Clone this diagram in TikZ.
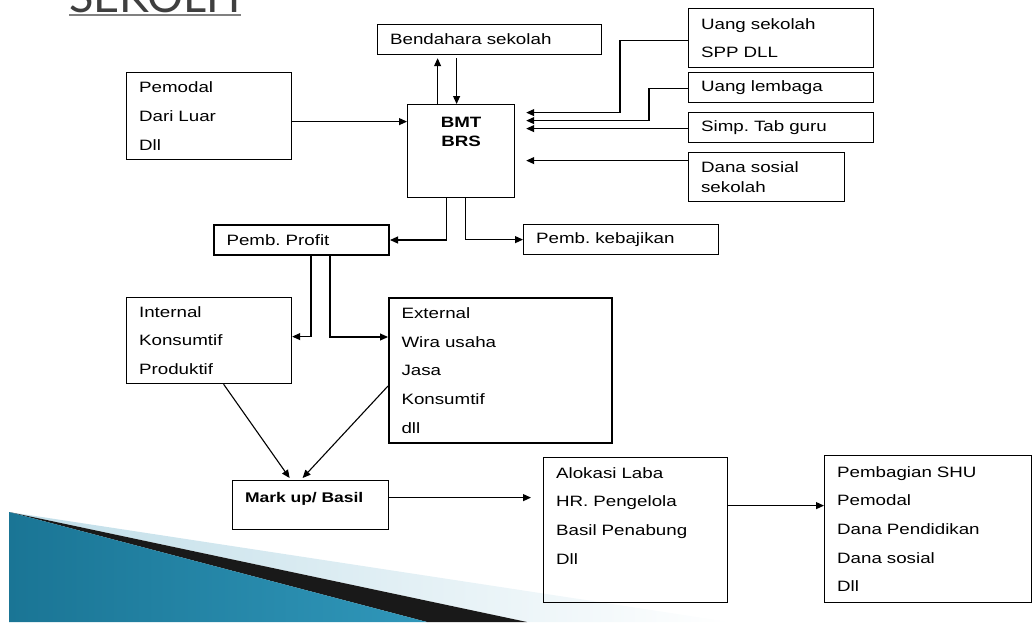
\documentclass[tikz,border=0pt]{standalone}
\usepackage{fontspec}
\newfontfamily\arial[FakeStretch=1.25]{Liberation Sans}
\newfontfamily\judulfont{Lato}
\usepackage{tikz}
\usetikzlibrary{arrows.meta}
\usetikzlibrary{positioning}
\definecolor{swdark}{HTML}{1A7595}
\definecolor{swlight}{HTML}{6ECBEB}
\definecolor{swmid}{HTML}{3097BA}
\definecolor{swpale}{HTML}{BFDDE8}
\definecolor{judul}{HTML}{3F3F3F}
\tikzstyle{box}=[rectangle,draw=black,line width=1.2pt,anchor=north west,inner xsep=12.5pt,inner ysep=0pt,align=left,font=\arial\fontsize{15}{28.6}\selectfont]
\tikzstyle{thickbox}=[box,line width=2pt]
\tikzstyle{arrow}=[-{Triangle[length=8pt,width=7pt]},line width=1.1pt]
\tikzset{every picture/.style={x=1pt,y=-1pt}}
\frenchspacing
\begin{document}
\begin{tikzpicture}
        \useasboundingbox (0,0) rectangle (1035,622);
        % swoosh kiri bawah
        \shade[left color=swpale,right color=white] (9,512) -- (730,622) -- (527,622) -- cycle;
        \fill[black!90] (9,512) -- (527,622) -- (427,622) -- cycle;
        \shade[left color=swdark,middle color=swlight,right color=swmid] (9,512) -- (427,622) -- (9,622) -- cycle;
        % judul
        \node[inner sep=0pt,anchor=base west,text=judul,font=\judulfont\fontsize{45}{45}\selectfont] at (69,12) (judul) {SEKOLH};
        \draw[gray,line width=2pt] ([yshift=-3pt]judul.base west) -- ([yshift=-3pt]judul.base east);
        % kotak
        \node[box,text width=199pt,minimum height=30pt] at (377,24) (bendahara) {Bendahara sekolah};
        \node[box,align=center,text width=82pt,minimum height=93pt,font=\arial\bfseries\fontsize{15}{19}\selectfont] at (407,104) (bmt) {BMT\\BRS\\~\\~};
        \node[box,text width=160pt,minimum height=59pt] at (688,8) (uangsek) {Uang sekolah\\SPP DLL};
        \node[box,text width=160pt,minimum height=30pt] at (688,72) (lembaga) {Uang lembaga};
        \node[box,text width=160pt,minimum height=30pt] at (688,112) (simp) {Simp. Tab guru};
        \node[box,text width=131pt,minimum height=49pt,font=\arial\fontsize{15}{20}\selectfont] at (688,152) (dsosial) {Dana sosial\\sekolah};
        \node[box,text width=140pt,minimum height=87pt] at (126,72) (pemodal) {Pemodal\\Dari Luar\\Dll};
        \node[thickbox,text width=150pt,minimum height=30pt] at (213,224) (profit) {Pemb. Profit};
        \node[box,text width=170pt,minimum height=30pt] at (523,224) (kebajikan) {Pemb. kebajikan};
        \node[box,text width=140pt,minimum height=86pt] at (126,297) (internal) {Internal\\Konsumtif\\Produktif};
        \node[thickbox,text width=198pt,minimum height=145pt] at (388,297) (external) {External\\Wira usaha\\Jasa\\Konsumtif\\dll};
        \node[box,text width=131pt,text height=22pt,text depth=27pt,font=\arial\bfseries\fontsize{14}{17}\selectfont] at (232,480) (markup) {Mark up/ Basil};
        \node[box,text width=159pt,minimum height=145pt] at (543,457) (alokasi) {Alokasi Laba\\HR. Pengelola\\Basil Penabung\\Dll\\~};
        \node[box,text width=182pt,minimum height=147pt] at (824,455) (pembagian) {Pembagian SHU\\Pemodal\\Dana Pendidikan\\Dana sosial\\Dll};
        % panah
        \draw[arrow] ([yshift=-5.5pt]pemodal.east) -- ([yshift=-5.5pt]pemodal.east -| bmt.west);
        \draw[arrow,shorten >=3pt] ([xshift=-23.5pt]bmt.north) -- ([xshift=-23.5pt]bmt.north |- bendahara.south);
        \draw[arrow,shorten <=3pt] ([xshift=-4.5pt]bmt.north |- bendahara.south) -- ([xshift=-4.5pt]bmt.north);
        \draw[arrow] ([yshift=-2.5pt]uangsek.west) -- ++(-68,0) |- ([xshift=11pt,yshift=38.5pt]bmt.east);
        \draw[arrow] ([yshift=-1pt]lembaga.west) -- ++(-39,0) |- ([xshift=11pt,yshift=30.5pt]bmt.east);
        \draw[arrow] ([yshift=-1pt]simp.west) -- ([xshift=11pt,yshift=22.5pt]bmt.east);
        \draw[arrow] ([yshift=16.5pt]dsosial.west) -- ([xshift=11pt,yshift=-9.5pt]bmt.east);
        \draw[arrow] ([xshift=-14.5pt]bmt.south) |- (profit.east);
        \draw[arrow] ([xshift=4.5pt]bmt.south) |- (kebajikan.west);
        \draw[arrow] ([xshift=9.5pt]profit.south) |- ([yshift=4pt]internal.east);
        \draw[arrow] ([xshift=28.5pt]profit.south) |- ([yshift=33.5pt]external.west);
        \draw[arrow] ([xshift=14.5pt]internal.south) -- ([xshift=-21pt,yshift=2pt]markup.north);
        \draw[arrow] ([yshift=-15.5pt]external.west) -- ([xshift=-8pt,yshift=2pt]markup.north);
        \draw[arrow,shorten >=12pt] ([yshift=7.5pt]markup.east) -- ([yshift=7.5pt]markup.east -| alokasi.west);
        \draw[arrow] ([yshift=24.5pt]alokasi.east) -- ([yshift=24.5pt]alokasi.east -| pembagian.west);
      \end{tikzpicture}
\end{document}
